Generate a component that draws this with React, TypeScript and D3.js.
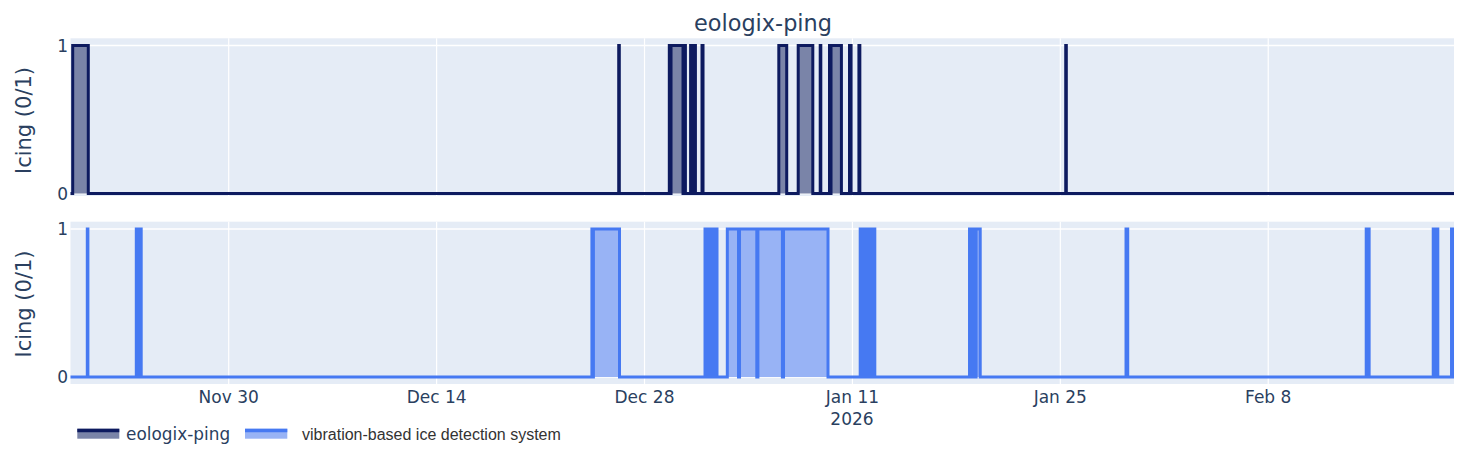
import React from "react";
import * as d3 from "d3";

const W = 1471, H = 450;
const text = "#2a3f5f";
const axisFont = "'DejaVu Sans', 'Open Sans', sans-serif";

const BASE = Date.UTC(2025, 10, 30);
// Event windows, days relative to Nov 30 2025
const pingDays: [number, number][] = [
  [-10.505, -9.455], [26.263, 26.303], [29.67, 29.75], [29.785, 30.593], [30.66, 30.754],
  [31.104, 31.165], [31.199, 31.3], [31.334, 31.428], [31.872, 31.94],
  [37.044, 37.576], [38.35, 39.333], [39.832, 39.872], [40.458, 40.525], [40.559, 41.259],
  [41.805, 41.912], [42.438, 42.5], [56.364, 56.404],
];
const iceDays: [number, number][] = [
  [-9.522, -9.481], [-6.222, -6.155], [-6.121, -6.04], [-6.007, -5.892],
  [24.458, 24.519], [24.559, 26.316],
  [32.074, 32.209], [32.242, 32.377], [32.41, 32.545], [32.579, 32.714], [32.747, 32.882],
  [33.576, 34.33], [34.397, 35.562], [35.636, 37.286], [37.36, 40.357],
  [42.525, 42.68], [42.714, 42.882], [42.916, 43.084], [43.118, 43.286], [43.32, 43.508],
  [49.886, 50.02], [50.054, 50.189], [50.222, 50.31], [50.33, 50.606],
  [60.424, 60.539], [76.599, 76.667], [76.694, 76.795],
  [81.111, 81.198], [81.232, 81.333], [81.36, 81.42], [82.343, 82.41],
];
const ticks = [
  { day: 0, label: "Nov 30" }, { day: 14, label: "Dec 14" }, { day: 28, label: "Dec 28" },
  { day: 42, label: "Jan 11" }, { day: 56, label: "Jan 25" }, { day: 70, label: "Feb 8" },
];
const yTicks = [0, 1];
const legendNames = ["eologix-ping", "vibration-based ice detection system"];
const colors = ["#0d1a5f", "#4679f2"];
const fills = ["#7a84a8", "#98b3f5"];

const toDate = (d: number) => new Date(BASE + d * 864e5);
const x = d3.scaleUtc().domain([toDate(-10.653), toDate(82.51)]).range([70.5, 1454]);

function Panel({ top, bottom, y1, y0, days, color, fill }: { top: number; bottom: number; y1: number; y0: number; days: [number, number][]; color: string; fill: string }) {
  const y = d3.scaleLinear().domain([0, 1]).range([y0, y1]);
  const pts: [Date, number][] = [[x.domain()[0], 0]];
  days.forEach(([a, b]) => { pts.push([toDate(a), 0], [toDate(a), 1], [toDate(b), 1], [toDate(b), 0]); });
  pts.push([x.domain()[1], 0]);
  const line = d3.line<[Date, number]>().x(d => x(d[0])).y(d => y(d[1]));
  const area = d3.area<[Date, number]>().x(d => x(d[0])).y0(y(0)).y1(d => y(d[1]));
  return (
    <g>
      <rect x={70.5} y={top} width={1454 - 70.5} height={bottom - top} fill="#e5ecf6" />
      {ticks.map(t => <line key={t.day} x1={x(toDate(t.day))} x2={x(toDate(t.day))} y1={top} y2={bottom} stroke="#fff" strokeWidth={1.2} />)}
      {yTicks.map(v => <line key={v} x1={70.5} x2={1454} y1={y(v)} y2={y(v)} stroke="#fff" strokeWidth={1.6} />)}
      <path d={area(pts) ?? ""} fill={fill} />
      <path d={line(pts) ?? ""} fill="none" stroke={color} strokeWidth={3} strokeLinejoin="miter" />
      {yTicks.map(v => <text key={v} x={68} y={y(v) + 6} textAnchor="end" fontSize={17} fill={text} fontFamily={axisFont}>{v}</text>)}
      <text transform={`translate(31,${(y0 + y1) / 2 + 1}) rotate(-90)`} textAnchor="middle" fontSize={21} fill={text} fontFamily={axisFont}>Icing (0/1)</text>
    </g>
  );
}

export default function App() {
  return (
    <svg width={W} height={H} style={{ position: "absolute", left: 0, top: 0, background: "#fff" }}>
      <text x={763} y={31} textAnchor="middle" fontSize={22.4} fill={text} fontFamily={axisFont}>eologix-ping</text>
      <Panel top={38.3} bottom={196} y1={45.5} y0={193.5} days={pingDays} color={colors[0]} fill={fills[0]} />
      <Panel top={221.7} bottom={384} y1={229} y0={377} days={iceDays} color={colors[1]} fill={fills[1]} />
      {ticks.map(t => <text key={t.day} x={x(toDate(t.day))} y={403} textAnchor="middle" fontSize={17} fill={text} fontFamily={axisFont}>{t.label}</text>)}
      <text x={852} y={425} textAnchor="middle" fontSize={17} fill={text} fontFamily={axisFont}>2026</text>
      <g>
        <rect x={77.3} y={428.7} width={42} height={10} fill={fills[0]} />
        <line x1={77.3} x2={119.3} y1={430.5} y2={430.5} stroke={colors[0]} strokeWidth={3.4} />
        <text x={126} y={439.5} fontSize={16.9} fill={text} fontFamily={axisFont}>{legendNames[0]}</text>
        <rect x={245} y={428.7} width={42.3} height={10} fill={fills[1]} />
        <line x1={245} x2={287.3} y1={430.5} y2={430.5} stroke={colors[1]} strokeWidth={3.4} />
        <text x={302} y={440} fontSize={16} fill="#333" fontFamily="'Liberation Sans', Arial, sans-serif">{legendNames[1]}</text>
      </g>
    </svg>
  );
}
